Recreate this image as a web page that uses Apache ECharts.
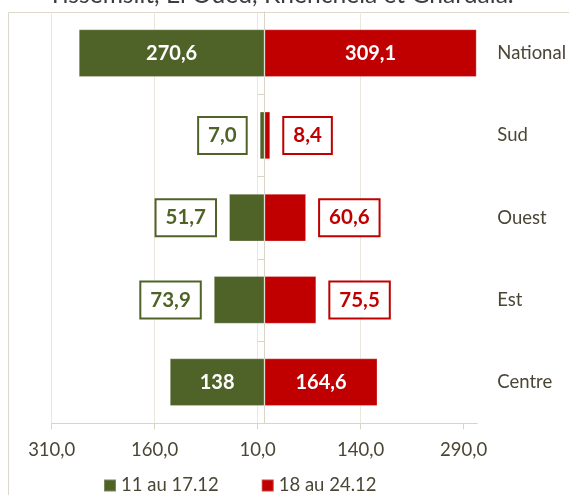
<!DOCTYPE html>
<html>
<head>
<meta charset="utf-8">
<script src="https://cdn.jsdelivr.net/npm/echarts@6/dist/echarts.min.js"></script>
<style>
  html, body { margin: 0; padding: 0; background: #ffffff; }
  #chart { width: 569px; height: 495px; }
</style>
</head>
<body>
<div id="chart"></div>
<script>
// ---- data (bottom to top, as the category axis runs) ----
const categories = ['Centre', 'Est', 'Ouest', 'Sud', 'National'];
const seriesNames = ['11 au 17.12', '18 au 24.12'];
const week1Values = [138, 73.9, 51.7, 7.0, 270.6];
const week2Values = [164.6, 75.5, 60.6, 8.4, 309.1];
const week1Labels = ['138', '73,9', '51,7', '7,0', '270,6'];
const week2Labels = ['164,6', '75,5', '60,6', '8,4', '309,1'];
const tickValues = [-310, -160, -10, 140, 290];
const titleText = 'Tissemsilt, El Oued, Khenchela et Ghardaïa.';

// ---- styles ----
const GREEN = '#4F6228';
const RED = '#C00000';
const TEXT = '#4a4636';
const GRID = '#ebe7dc';
const AXIS = '#d9d5c5';
const FONT = 'Lato';

function barLabel(value, text, color, side) {
  if (value > 100) {
    return {
      show: true, position: 'inside', formatter: text,
      color: '#ffffff', fontWeight: 'bold', fontSize: 20, fontFamily: FONT
    };
  }
  return {
    show: true, position: side, distance: 14, formatter: text,
    color: color, fontWeight: 'bold', fontSize: 20.5, fontFamily: FONT,
    lineHeight: 22,
    backgroundColor: '#ffffff', borderColor: color, borderWidth: 2,
    padding: [7, 9, 6, 9]
  };
}

const chart = echarts.init(document.getElementById('chart'), null, { renderer: 'canvas' });

chart.setOption({
  animation: false,
  backgroundColor: '#ffffff',
  textStyle: { fontFamily: FONT },
  graphic: [
    {
      type: 'rect', z: -10, silent: true,
      shape: { x: 8.5, y: 12.5, width: 700, height: 700 },
      style: { fill: 'none', stroke: '#dcd8ca', lineWidth: 1 }
    },
    {
      type: 'text', left: 48, top: -17, silent: true,
      style: { text: titleText, fontFamily: FONT, fontSize: 24.6, fill: '#3c3c3c' }
    }
  ],
  legend: {
    data: seriesNames,
    left: 103, top: 476, padding: 0,
    icon: 'rect', itemWidth: 12, itemHeight: 12, itemGap: 42,
    textStyle: { fontFamily: FONT, fontSize: 18.5, color: TEXT }
  },
  grid: { left: 51.7, right: 91.3, top: 12, bottom: 71.7 },
  xAxis: {
    type: 'value',
    min: -310, max: 310, interval: 150,
    axisLine: { show: true, lineStyle: { color: AXIS, width: 1 } },
    axisTick: { show: true, length: 6, lineStyle: { color: AXIS }, customValues: tickValues },
    splitLine: { show: true, showMaxLine: false, lineStyle: { color: GRID, width: 1 } },
    axisLabel: {
      customValues: tickValues,
      margin: 17,
      fontFamily: FONT, fontSize: 18.5, color: TEXT,
      formatter: v => Math.abs(v).toFixed(1).replace('.', ',')
    }
  },
  yAxis: [
    {
      type: 'category', data: categories,
      axisLine: { show: true, onZero: true, lineStyle: { color: AXIS } },
      axisTick: { show: true, length: 7, lineStyle: { color: AXIS } },
      axisLabel: { show: false },
      splitLine: { show: false }
    },
    {
      type: 'category', data: categories, position: 'right',
      axisLine: { show: false }, axisTick: { show: false },
      axisLabel: { margin: 20, fontFamily: FONT, fontSize: 18.5, color: TEXT },
      splitLine: { show: false }
    }
  ],
  series: [
    {
      name: seriesNames[0], type: 'bar', stack: 'total', yAxisIndex: 0,
      barCategoryGap: '42%',
      itemStyle: { color: GREEN, borderColor: 'rgba(255,255,255,0.25)', borderWidth: 1 },
      data: week1Values.map((v, i) => ({
        value: -v,
        label: barLabel(v, week1Labels[i], GREEN, 'left')
      }))
    },
    {
      name: seriesNames[1], type: 'bar', stack: 'total', yAxisIndex: 0,
      barCategoryGap: '42%',
      itemStyle: { color: RED, borderColor: 'rgba(255,255,255,0.25)', borderWidth: 1 },
      data: week2Values.map((v, i) => ({
        value: v,
        label: barLabel(v, week2Labels[i], RED, 'right')
      }))
    }
  ]
});
</script>
</body>
</html>
